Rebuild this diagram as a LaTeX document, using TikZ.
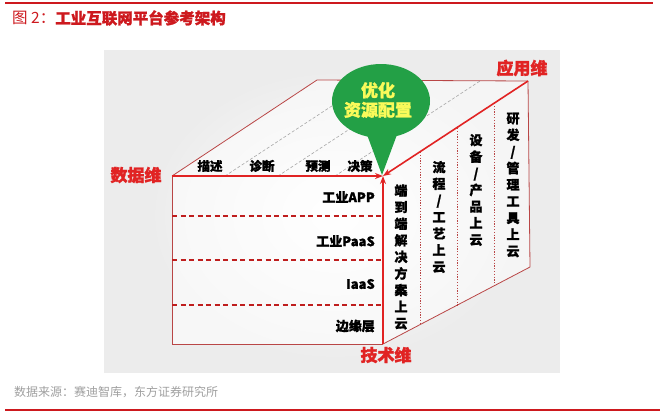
\documentclass[tikz,border=0pt]{standalone}
\usepackage{fontspec}
\newfontfamily\cjk{Noto Sans CJK SC}[BoldFeatures={FakeBold=1.2}]
\usetikzlibrary{arrows.meta}
\definecolor{titlered}{RGB}{205,25,30}
\definecolor{axisred}{RGB}{225,35,35}
\definecolor{edgered}{RGB}{185,70,70}
\definecolor{balloongreen}{RGB}{35,160,70}
\definecolor{balloontext}{RGB}{250,250,90}
\definecolor{panelgray}{RGB}{236,236,236}
\tikzset{
  thinedge/.style={draw=edgered, line width=0.8pt},
  axisarrow/.style={draw=axisred, line width=1.6pt, -{Stealth[length=8pt,width=6pt]}},
  layerline/.style={draw=axisred!85!black, line width=1.1pt, dash pattern=on 5pt off 3.5pt},
  topdash/.style={draw=gray!70, line width=0.6pt, dash pattern=on 3pt off 2pt},
  sidedot/.style={draw=edgered, line width=0.7pt, dash pattern=on 1.2pt off 1.6pt},
  axislabel/.style={font=\cjk\bfseries\fontsize{17}{19}\selectfont, text=axisred, inner sep=0pt},
  toplabel/.style={font=\cjk\bfseries\fontsize{12.5}{14}\selectfont, inner sep=0pt},
  layerlabel/.style={font=\cjk\bfseries\fontsize{13}{15}\selectfont, inner sep=0pt, anchor=east},
  vertlabel/.style={font=\cjk\bfseries\fontsize{13}{16.6}\selectfont, inner sep=0pt, align=center},
}
\begin{document}
\begin{tikzpicture}[x=1pt,y=-1pt]
\useasboundingbox (0,0) rectangle (660,413);
% frame lines
\coordinate (tl1) at (5,3); \coordinate (tl2) at (653,3);
\draw[titlered, line width=1.4pt] (tl1) -- (tl2);
\coordinate (bl1) at (5,410); \coordinate (bl2) at (660,410);
\draw[titlered, line width=1.4pt] (bl1) -- (bl2);
\node[anchor=west, inner sep=0pt, text=titlered, font=\cjk\fontsize{15.5}{17}\selectfont] (title) at (12,18) {图\ 2：{\bfseries 工业互联网平台参考架构}};
\node[anchor=west, inner sep=0pt, text=gray!75, font=\cjk\fontsize{12}{14}\selectfont] (source) at (14,392) {数据来源：赛迪智库，东方证券研究所};
% panel
\fill[panelgray] (104,50) rectangle (560,373);
\shade[inner color=white, outer color=panelgray] (150,70) rectangle (520,360);
% cube corners
\coordinate (FTL) at (172,176);
\coordinate (FTR) at (383,176);
\coordinate (FBL) at (172,344);
\coordinate (FBR) at (383,344);
\coordinate (BTL) at (317,80);
\coordinate (BTR) at (528,81);
\coordinate (BBR) at (530,267);
% faces
\fill[white, opacity=0.6] (FTL) -- (FTR) -- (FBR) -- (FBL) -- cycle;
\fill[white, opacity=0.5] (FTR) -- (BTR) -- (BBR) -- (FBR) -- cycle;
\fill[white, opacity=0.5] (FTL) -- (BTL) -- (BTR) -- (FTR) -- cycle;
% thin edges
\draw[thinedge] (FTL) -- (BTL) -- (BTR);
\draw[thinedge] (BTR) -- (BBR) -- (FBR);
\draw[thinedge] (FTL) -- (FBL) -- (FBR);
% top face dashed
\coordinate (ta1) at (225,176); \coordinate (tb1) at (370,81);
\coordinate (ta2) at (278,176); \coordinate (tb2) at (423,81);
\coordinate (ta3) at (335,176); \coordinate (tb3) at (480,81);
\draw[topdash] (ta1) -- (tb1);
\draw[topdash] (ta2) -- (tb2);
\draw[topdash] (ta3) -- (tb3);
% front dashed layers
\coordinate (l1a) at (172,216); \coordinate (l1b) at (383,216);
\coordinate (l2a) at (172,260); \coordinate (l2b) at (383,260);
\coordinate (l3a) at (172,305); \coordinate (l3b) at (383,305);
\draw[layerline] (l1a) -- (l1b);
\draw[layerline] (l2a) -- (l2b);
\draw[layerline] (l3a) -- (l3b);
% right face dotted
\coordinate (r1a) at (420,152); \coordinate (r1b) at (420,325);
\coordinate (r2a) at (457,128); \coordinate (r2b) at (457,306);
\coordinate (r3a) at (494,103); \coordinate (r3b) at (494,286);
\draw[sidedot] (r1a) -- (r1b);
\draw[sidedot] (r2a) -- (r2b);
\draw[sidedot] (r3a) -- (r3b);
% balloon
\fill[balloongreen] (381,101) ellipse [x radius=49, y radius=37];
\coordinate (pl) at (366,132); \coordinate (pr) at (398,132); \coordinate (ptip) at (382,175);
\fill[balloongreen] (pl) -- (ptip) -- (pr) -- cycle;
\node[inner sep=0pt, text=balloontext, font=\cjk\bfseries\fontsize{17}{19.5}\selectfont, align=center] (balloon) at (378,100) {优化\\资源配置};
% axis arrows
\draw[axisarrow] (FTL) -- (FTR);
\draw[axisarrow] (FBR) -- (FTR);
\draw[axisarrow] (BTR) -- (FTR);
% axis labels
\node[axislabel] (data) at (136,175) {数据维};
\node[axislabel] (app) at (522,68) {应用维};
\node[axislabel] (tech) at (386,355) {技术维};
% top labels
\node[toplabel] (t1) at (210,166) {描述};
\node[toplabel] (t2) at (262,166) {诊断};
\node[toplabel] (t3) at (318,166) {预测};
\node[toplabel] (t4) at (360,166) {决策};
% layer labels
\node[layerlabel] (L1) at (375,197) {工业APP};
\node[layerlabel] (L2) at (375,241) {工业PaaS};
\node[layerlabel] (L3) at (375,284) {IaaS};
\node[layerlabel] (L4) at (375,326) {边缘层};
% vertical labels
\node[vertlabel] (v1) at (401,257) {端\\到\\端\\解\\决\\方\\案\\上\\云};
\node[vertlabel] (v2) at (439,217) {流\\程\\/\\工\\艺\\上\\云};
\node[vertlabel] (v3) at (476,190) {设\\备\\/\\产\\品\\上\\云};
\node[vertlabel] (v4) at (513,185) {研\\发\\/\\管\\理\\工\\具\\上\\云};
\end{tikzpicture}
\end{document}
